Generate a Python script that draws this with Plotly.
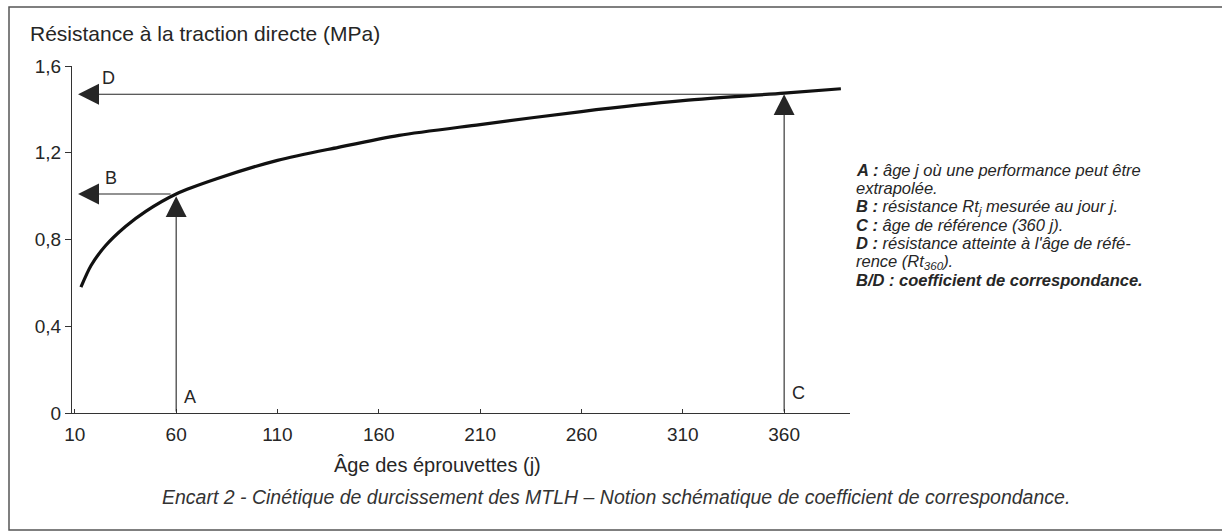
import plotly.graph_objects as go

# Hardening curve: direct tensile strength (MPa) versus specimen age (days)
age_days = [13, 18, 25, 35, 45, 60, 80, 110, 140, 170, 210, 260, 310, 360, 388]
strength_mpa = [0.58, 0.68, 0.77, 0.86, 0.93, 1.01, 1.08, 1.165, 1.225, 1.28, 1.33, 1.39, 1.44, 1.475, 1.495]

# Reference points of the scheme
age_a = 60          # A: age j at which performance is extrapolated
age_c = 360         # C: reference age
strength_b = 1.01   # B: Rt_j measured at day j
strength_d = 1.47   # D: Rt_360 at the reference age

x_ticks = [10, 60, 110, 160, 210, 260, 310, 360]
x_tick_labels = ["10", "60", "110", "160", "210", "260", "310", "360"]
y_ticks = [0, 0.4, 0.8, 1.2, 1.6]
y_tick_labels = ["0", "0,4", "0,8", "1,2", "1,6"]

legend_lines = [
    "<b>A :</b> âge j où une performance peut être",
    "extrapolée.",
    "<b>B :</b> résistance Rt<sub>j</sub> mesurée au jour j.",
    "<b>C :</b> âge de référence (360 j).",
    "<b>D :</b> résistance atteinte à l'âge de réfé-",
    "rence (Rt<sub>360</sub>).",
    "<b>B/D : coefficient de correspondance.</b>",
]

FONT = "Liberation Sans, Arial, sans-serif"
INK = "#262626"
X_MIN, X_MAX = 8.6, 392.5

fig = go.Figure()
fig.add_trace(go.Scatter(
    x=age_days, y=strength_mpa, mode="lines",
    line=dict(color="#111111", width=3.2, shape="spline", smoothing=0.8),
    hoverinfo="skip", showlegend=False,
))

arrow_style = dict(showarrow=True, text="", arrowhead=2, arrowsize=3.8,
                   arrowwidth=1.1, arrowcolor=INK, standoff=0,
                   xref="x", yref="y", axref="x", ayref="y")
tip_x = X_MIN + 3.0
# horizontal arrows B and D toward the strength axis
fig.add_annotation(x=tip_x, y=strength_b, ax=age_a - 2, ay=strength_b, **arrow_style)
fig.add_annotation(x=tip_x, y=strength_d, ax=age_c, ay=strength_d, **arrow_style)
# vertical arrows A and C up to the curve
fig.add_annotation(x=age_a, y=strength_b - 0.01, ax=age_a, ay=0, **arrow_style)
fig.add_annotation(x=age_c, y=strength_d, ax=age_c, ay=0, **arrow_style)

letter_font = dict(family=FONT, size=18, color=INK)
fig.add_annotation(x=tip_x + 15, y=strength_d + 0.075, text="D", showarrow=False,
                   font=letter_font, xanchor="center", yanchor="middle")
fig.add_annotation(x=tip_x + 16, y=strength_b + 0.075, text="B", showarrow=False,
                   font=letter_font, xanchor="center", yanchor="middle")
fig.add_annotation(x=age_a + 3, y=0.072, text="A", showarrow=False,
                   font=letter_font, xanchor="left", yanchor="middle")
fig.add_annotation(x=age_c + 3, y=0.092, text="C", showarrow=False,
                   font=letter_font, xanchor="left", yanchor="middle")

# pixel helpers for the paper-referenced text and frame
PL, PR, PT, PB = 72, 850, 66, 413
def px(x):
    return (x - PL) / (PR - PL)
def py(y):
    return (PB - y) / (PB - PT)

fig.add_annotation(xref="paper", yref="paper", x=px(28), y=py(34),
                   text="Résistance à la traction directe (MPa)", showarrow=False,
                   xanchor="left", yanchor="middle",
                   font=dict(family=FONT, size=21, color=INK))
fig.add_annotation(xref="paper", yref="paper", x=px(437), y=py(465),
                   text="Âge des éprouvettes (j)", showarrow=False,
                   xanchor="center", yanchor="middle",
                   font=dict(family=FONT, size=20, color=INK))
fig.add_annotation(xref="paper", yref="paper", x=px(616), y=py(497),
                   text="<i>Encart 2 - Cinétique de durcissement des MTLH – Notion schématique de coefficient de correspondance.</i>",
                   showarrow=False, xanchor="center", yanchor="middle",
                   font=dict(family=FONT, size=19.5, color="#333333"))

for i, line in enumerate(legend_lines):
    fig.add_annotation(xref="paper", yref="paper", x=px(854), y=py(170 + i * 18.3),
                       text="<i>" + line + "</i>", showarrow=False,
                       xanchor="left", yanchor="middle",
                       font=dict(family=FONT, size=16.5, color=INK))

# outer frame
fig.add_shape(type="rect", xref="paper", yref="paper",
              x0=px(9), x1=px(1235), y0=py(530), y1=py(7),
              line=dict(color="#555555", width=1.5), layer="below")

fig.update_layout(
    width=1222, height=532,
    margin=dict(l=PL, r=1222 - PR, t=PT, b=532 - PB, pad=0),
    paper_bgcolor="white", plot_bgcolor="white",
    showlegend=False,
    font=dict(family=FONT, color=INK),
)
fig.update_xaxes(range=[X_MIN, X_MAX], tickvals=x_ticks, ticktext=x_tick_labels,
                 showline=True, linecolor="#333333", linewidth=1.2,
                 ticks="inside", ticklen=4, tickcolor="#333333",
                 showgrid=False, zeroline=False, ticklabelstandoff=4,
                 tickfont=dict(family=FONT, size=19, color=INK))
fig.update_yaxes(range=[0, 1.6], tickvals=y_ticks, ticktext=y_tick_labels,
                 showline=True, linecolor="#333333", linewidth=1.2,
                 ticks="outside", ticklen=6, tickcolor="#333333",
                 showgrid=False, zeroline=False,
                 tickfont=dict(family=FONT, size=19, color=INK))

fig.write_html("out.html")
